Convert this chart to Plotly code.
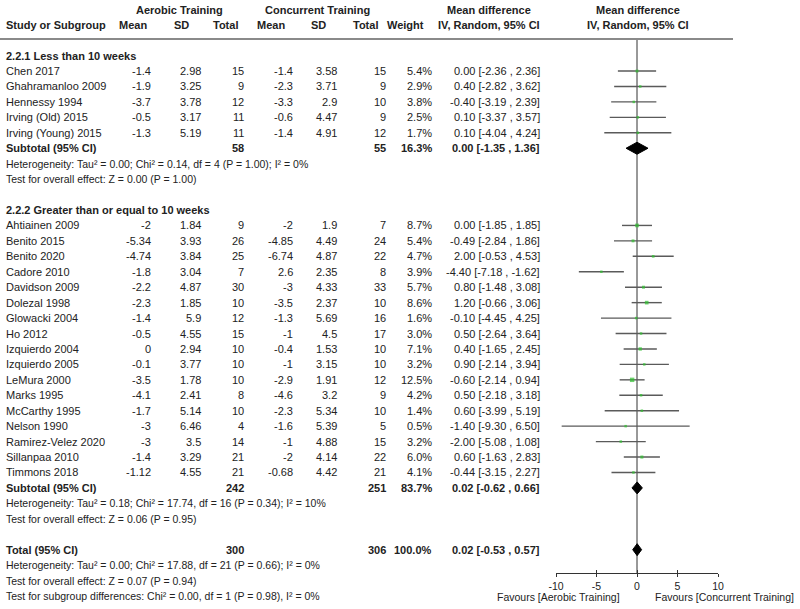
import plotly.graph_objects as go

# ---------------- data ----------------
g1_name = ["Chen 2017", "Ghahramanloo 2009", "Hennessy 1994", "Irving (Old) 2015", "Irving (Young) 2015"]
g1_ae_mean = [-1.4, -1.9, -3.7, -0.5, -1.3]
g1_ae_sd = [2.98, 3.25, 3.78, 3.17, 5.19]
g1_ae_n = [15, 9, 12, 11, 11]
g1_co_mean = [-1.4, -2.3, -3.3, -0.6, -1.4]
g1_co_sd = [3.58, 3.71, 2.9, 4.47, 4.91]
g1_co_n = [15, 9, 10, 9, 12]
g1_weight = [5.4, 2.9, 3.8, 2.5, 1.7]
g1_md = [0.00, 0.40, -0.40, 0.10, 0.10]
g1_lo = [-2.36, -2.82, -3.19, -3.37, -4.04]
g1_hi = [2.36, 3.62, 2.39, 3.57, 4.24]
g1_sub = dict(ae_n=58, co_n=55, weight=16.3, md=0.00, lo=-1.35, hi=1.36)
g1_het = "Heterogeneity: Tau² = 0.00; Chi² = 0.14, df = 4 (P = 1.00); I² = 0%"
g1_test = "Test for overall effect: Z = 0.00 (P = 1.00)"

g2_name = ["Ahtiainen 2009", "Benito 2015", "Benito 2020", "Cadore 2010", "Davidson 2009",
           "Dolezal 1998", "Glowacki 2004", "Ho 2012", "Izquierdo 2004", "Izquierdo 2005",
           "LeMura 2000", "Marks 1995", "McCarthy 1995", "Nelson 1990", "Ramirez-Velez 2020",
           "Sillanpaa 2010", "Timmons 2018"]
g2_ae_mean = [-2, -5.34, -4.74, -1.8, -2.2, -2.3, -1.4, -0.5, 0, -0.1, -3.5, -4.1, -1.7, -3, -3, -1.4, -1.12]
g2_ae_sd = [1.84, 3.93, 3.84, 3.04, 4.87, 1.85, 5.9, 4.55, 2.94, 3.77, 1.78, 2.41, 5.14, 6.46, 3.5, 3.29, 4.55]
g2_ae_n = [9, 26, 25, 7, 30, 10, 12, 15, 10, 10, 10, 8, 10, 4, 14, 21, 21]
g2_co_mean = [-2, -4.85, -6.74, 2.6, -3, -3.5, -1.3, -1, -0.4, -1, -2.9, -4.6, -2.3, -1.6, -1, -2, -0.68]
g2_co_sd = [1.9, 4.49, 4.87, 2.35, 4.33, 2.37, 5.69, 4.5, 1.53, 3.15, 1.91, 3.2, 5.34, 5.39, 4.88, 4.14, 4.42]
g2_co_n = [7, 24, 22, 8, 33, 10, 16, 17, 10, 10, 12, 9, 10, 5, 15, 22, 21]
g2_weight = [8.7, 5.4, 4.7, 3.9, 5.7, 8.6, 1.6, 3.0, 7.1, 3.2, 12.5, 4.2, 1.4, 0.5, 3.2, 6.0, 4.1]
g2_md = [0.00, -0.49, 2.00, -4.40, 0.80, 1.20, -0.10, 0.50, 0.40, 0.90, -0.60, 0.50, 0.60, -1.40, -2.00, 0.60, -0.44]
g2_lo = [-1.85, -2.84, -0.53, -7.18, -1.48, -0.66, -4.45, -2.64, -1.65, -2.14, -2.14, -2.18, -3.99, -9.30, -5.08, -1.63, -3.15]
g2_hi = [1.85, 1.86, 4.53, -1.62, 3.08, 3.06, 4.25, 3.64, 2.45, 3.94, 0.94, 3.18, 5.19, 6.50, 1.08, 2.83, 2.27]
g2_sub = dict(ae_n=242, co_n=251, weight=83.7, md=0.02, lo=-0.62, hi=0.66)
g2_het = "Heterogeneity: Tau² = 0.18; Chi² = 17.74, df = 16 (P = 0.34); I² = 10%"
g2_test = "Test for overall effect: Z = 0.06 (P = 0.95)"

total = dict(ae_n=300, co_n=306, weight=100.0, md=0.02, lo=-0.53, hi=0.57)
total_het = "Heterogeneity: Tau² = 0.00; Chi² = 17.88, df = 21 (P = 0.66); I² = 0%"
total_test = "Test for overall effect: Z = 0.07 (P = 0.94)"
subgroup_test = "Test for subgroup differences: Chi² = 0.00, df = 1 (P = 0.98), I² = 0%"

x_ticks = [-10, -5, 0, 5, 10]
favours_left = "Favours [Aerobic Training]"
favours_right = "Favours [Concurrent Training]"

# ---------------- layout helpers ----------------
W, H = 800, 609
FONT = "Arial, Liberation Sans, sans-serif"
TXT = "#222222"
ROW0, ROWH = 55.6, 15.44


def ry(i):
    return ROW0 + ROWH * i


def px(x):
    return x / W


COL = dict(ae_mean=153, ae_sd=203, ae_n=246, co_mean=295, co_sd=339, co_n=388, weight=434, ci=542)

annotations = []


def txt(text, x, y, anchor="left", bold=False, size=11):
    annotations.append(dict(
        text=f"<b>{text}</b>" if bold else text, x=px(x), y=y, xref="paper", yref="y",
        xanchor=anchor, yanchor="middle", showarrow=False,
        font=dict(family=FONT, size=size, color=TXT)))


def fmt(v):
    return f"{v:g}"


def ci_text(md, lo, hi):
    return f"{md:.2f} [{lo:.2f} , {hi:.2f}]"


# headers
txt("Aerobic Training", 179, 10, "center", True)
txt("Concurrent Training", 317, 10, "center", True)
txt("Mean difference", 489, 10, "center", True)
txt("Mean difference", 638, 10, "center", True)
txt("Study or Subgroup", 4, 25, "left", True)
for label, cx in [("Mean", 133), ("SD", 181), ("Total", 225), ("Mean", 271), ("SD", 318),
                  ("Total", 365), ("Weight", 406)]:
    txt(label, cx, 25, "center", True)
txt("IV, Random, 95% CI", 489, 25, "center", True)
txt("IV, Random, 95% CI", 638, 25, "center", True)

study_rows, study_md, study_lo, study_hi, study_w = [], [], [], [], []
diamonds = []


def group(start, title, names, aem, aes, aen, com, cos, con, wt, md, lo, hi, sub, het, test):
    txt(title, 4, ry(start), "left", True)
    for k in range(len(names)):
        r = ry(start + 1 + k)
        txt(names[k], 4, r)
        txt(fmt(aem[k]), COL["ae_mean"], r, "right")
        txt(fmt(aes[k]), COL["ae_sd"], r, "right")
        txt(fmt(aen[k]), COL["ae_n"], r, "right")
        txt(fmt(com[k]), COL["co_mean"], r, "right")
        txt(fmt(cos[k]), COL["co_sd"], r, "right")
        txt(fmt(con[k]), COL["co_n"], r, "right")
        txt(f"{wt[k]:.1f}%", COL["weight"], r, "right")
        txt(ci_text(md[k], lo[k], hi[k]), COL["ci"], r, "right")
        study_rows.append(r)
        study_md.append(md[k])
        study_lo.append(lo[k])
        study_hi.append(hi[k])
        study_w.append(wt[k])
    s = start + 1 + len(names)
    summary(s, "Subtotal (95% CI)", sub)
    txt(het, 4, ry(s + 1), size=10.5)
    txt(test, 4, ry(s + 2), size=10.5)


def summary(rowi, label, d):
    r = ry(rowi)
    txt(label, 4, r, "left", True)
    txt(str(d["ae_n"]), COL["ae_n"], r, "right", True)
    txt(str(d["co_n"]), COL["co_n"], r, "right", True)
    txt(f"{d['weight']:.1f}%", COL["weight"], r, "right", True)
    txt(ci_text(d["md"], d["lo"], d["hi"]), COL["ci"], r, "right", True)
    diamonds.append((r, d["md"], d["lo"], d["hi"]))


group(0, "2.2.1 Less than 10 weeks", g1_name, g1_ae_mean, g1_ae_sd, g1_ae_n, g1_co_mean,
      g1_co_sd, g1_co_n, g1_weight, g1_md, g1_lo, g1_hi, g1_sub, g1_het, g1_test)
g2_start = 1 + len(g1_name) + 3 + 1
group(g2_start, "2.2.2 Greater than or equal to 10 weeks", g2_name, g2_ae_mean, g2_ae_sd, g2_ae_n,
      g2_co_mean, g2_co_sd, g2_co_n, g2_weight, g2_md, g2_lo, g2_hi, g2_sub, g2_het, g2_test)
t_row = g2_start + 1 + len(g2_name) + 3 + 1
summary(t_row, "Total (95% CI)", total)
txt(total_het, 4, ry(t_row + 1), size=10.5)
txt(total_test, 4, ry(t_row + 2), size=10.5)
txt(subgroup_test, 4, ry(t_row + 3), size=10.5)

AXIS_Y = 573
txt(favours_left, 622, 597, "right", size=10.5)
txt(favours_right, 653, 597, "left", size=10.5)

# ---------------- traces ----------------
fig = go.Figure()
lx, ly = [], []
for r, a, b in zip(study_rows, study_lo, study_hi):
    lx += [a, b, None]
    ly += [r, r, None]
fig.add_trace(go.Scatter(x=lx, y=ly, mode="lines", line=dict(color="#5a5a5a", width=1.4),
                         hoverinfo="skip", showlegend=False))
fig.add_trace(go.Scatter(x=study_md, y=study_rows, mode="markers",
                         marker=dict(symbol="square", color="#2fc02f",
                                     size=[max(2.5, 1.25 * w ** 0.5) for w in study_w],
                                     line=dict(width=0)),
                         showlegend=False))
for r, m, a, b in diamonds:
    fig.add_trace(go.Scatter(x=[a, m, b, m, a], y=[r, r - 6, r, r + 6, r], mode="lines",
                             fill="toself", fillcolor="black", line=dict(color="black", width=1),
                             hoverinfo="skip", showlegend=False))
# invisible trace for the overlay tick axis
fig.add_trace(go.Scatter(x=[0], y=[AXIS_Y], xaxis="x2", mode="markers",
                         marker=dict(opacity=0), showlegend=False, hoverinfo="skip"))

pos = (H - AXIS_Y) / H
dom = [px(556), px(718)]
fig.update_layout(
    width=W, height=H, margin=dict(l=0, r=0, t=0, b=0, autoexpand=False),
    paper_bgcolor="white", plot_bgcolor="white",
    annotations=annotations,
    xaxis=dict(domain=dom, range=[-10, 10], anchor="free", position=pos,
               tickvals=x_ticks, ticktext=[str(t) for t in x_ticks],
               showline=True, linecolor="#333333", linewidth=1, ticks="outside", ticklen=3,
               tickcolor="#333333", showgrid=False, zeroline=False,
               tickfont=dict(family=FONT, size=10.5, color=TXT), fixedrange=True),
    xaxis2=dict(domain=dom, range=[-10, 10], anchor="free", position=pos, overlaying="x",
                tickvals=x_ticks, showticklabels=False, ticks="inside", ticklen=3,
                tickcolor="#333333", showline=False, showgrid=False, zeroline=False,
                fixedrange=True),
    yaxis=dict(range=[H, 0], domain=[0, 1], visible=False, fixedrange=True),
    shapes=[
        dict(type="line", xref="paper", yref="y", x0=0, x1=px(733), y0=39, y1=39,
             line=dict(color="#8a8a8a", width=2)),
        dict(type="line", xref="x", yref="y", x0=0, x1=0, y0=39, y1=AXIS_Y,
             line=dict(color="#333333", width=1), layer="below"),
    ],
)

fig.write_html("out.html", config={"displayModeBar": False},
               post_script="document.body.style.margin='0';document.body.style.overflow='hidden';")
